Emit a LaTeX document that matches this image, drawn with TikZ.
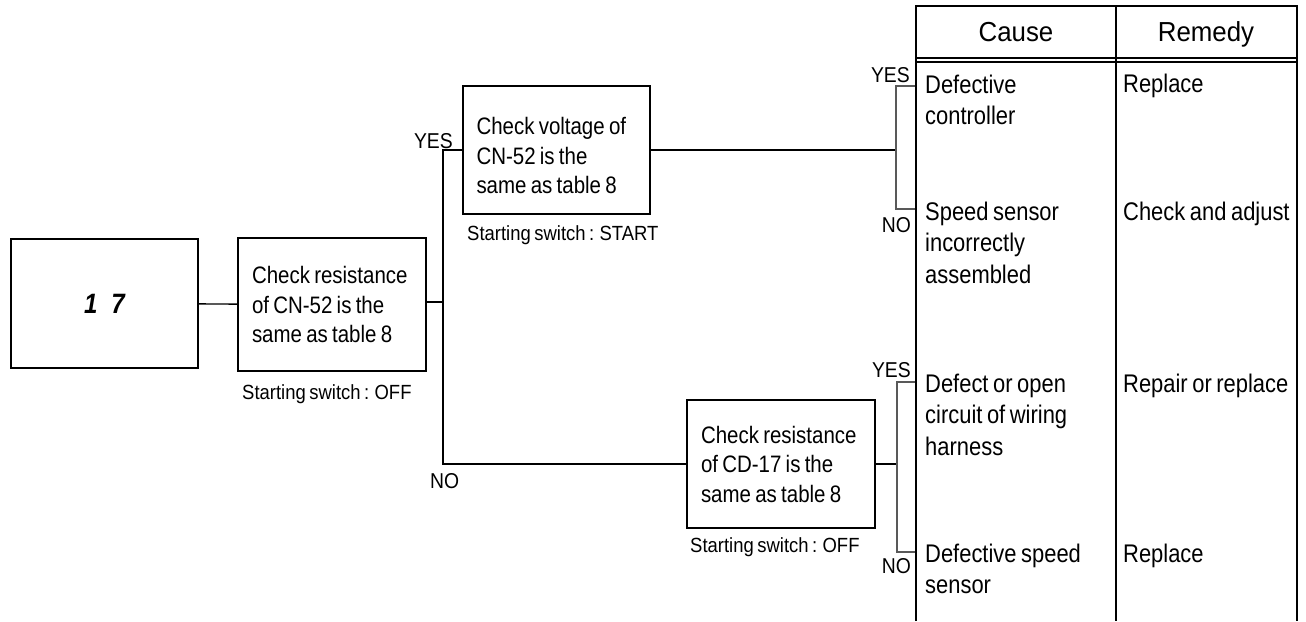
\documentclass[tikz,border=0pt]{standalone}
\usepackage{fontspec}
\setmainfont{Liberation Sans}[FakeStretch=0.86]
\newfontfamily\bodyfont{Liberation Sans}[FakeStretch=0.86, WordSpace=0.75]
\newfontfamily\lblfont{Liberation Sans}[FakeStretch=0.9, WordSpace=0.7]
\newfontfamily\hdrfont{Liberation Sans}[FakeStretch=0.94]
\begin{document}
\begin{tikzpicture}[x=1pt,y=-1pt,
  box/.style={draw, line width=1.7pt, inner xsep=0pt, inner ysep=0pt, align=flush left,
    text width=160pt, font=\bodyfont\fontsize{23.8}{29.5}\selectfont},
  conn/.style={line width=1.4pt},
  brk/.style={line width=1.1pt, black!65},
  tbl/.style={line width=1.7pt},
  lbl/.style={inner sep=0pt, font=\lblfont\fontsize{20.5}{24}\selectfont},
  yn/.style={inner sep=0pt, font=\lblfont\fontsize{21.5}{24}\selectfont},
  cell/.style={inner sep=0pt, align=flush left, font=\bodyfont\fontsize{25.5}{31.5}\selectfont, anchor=base west},
  hdr/.style={inner sep=0pt, font=\hdrfont\fontsize{27.5}{30}\selectfont, anchor=base}]
\useasboundingbox (0,0) rectangle (1306,621);
\fill[white] (0,0) rectangle (1306,621);

% boxes
\node[draw, line width=1.7pt, minimum width=187pt, minimum height=129pt, inner sep=0pt]
  (b1) at (104.5,303.5) {\fontsize{28}{28}\selectfont\bfseries\itshape 1\hspace{14pt}7};
\node[box, minimum width=188pt, minimum height=133pt] (b2) at (332,304.5)
  {Check resistance\\of CN-52 is the\\same as table 8};
\node[box, minimum width=187pt, minimum height=128pt, text height=29pt] (b3) at (556.5,150)
  {Check voltage of\\CN-52 is the\\same as table 8};
\node[box, minimum width=188pt, minimum height=128pt] (b4) at (781,464)
  {Check resistance\\of CD-17 is the\\same as table 8};

% condition labels
\node[lbl, anchor=base west] (s2) at (242,399) {Starting switch : OFF};
\node[lbl, anchor=base west] (s3) at (467,240) {Starting switch : START};
\node[lbl, anchor=base west] (s4) at (690,552) {Starting switch : OFF};

% connectors
\coordinate (j1) at (443,302);
\draw[conn] (b1) -- (b2);
\draw[conn] (b2.east |- j1) -- (j1);
\draw[conn] (b3.west) -| (j1) |- (b4.west);

\coordinate (y1) at (916,86);
\coordinate (n1) at (916,209);
\coordinate (k1) at (896,150);
\draw[conn] (b3.east) -- (k1);
\draw[brk] (y1) -- ++(-20,0) |- (n1);

\coordinate (y2) at (916,382);
\coordinate (n2) at (916,552);
\coordinate (k2) at (897,464);
\draw[conn] (b4.east) -- (k2);
\draw[brk] (y2) -- ++(-19,0) |- (n2);

% YES / NO labels
\node[yn, anchor=base east] (ly0) at (453,148) {YES};
\node[yn, anchor=base west] (ln0) at (430,488) {NO};
\node[yn, anchor=base east] (ly1) at (910,82) {YES};
\node[yn, anchor=base east] (ln1) at (911,232) {NO};
\node[yn, anchor=base east] (ly2) at (911,377) {YES};
\node[yn, anchor=base east] (ln2) at (911,573) {NO};

% table
\draw[tbl] (916,621) -- (916,6) -- (1297,6) -- (1297,621);
\draw[tbl] (1116,6) -- (1116,621);
\draw[line width=1.2pt] (916,58) -- (1297,58);
\draw[line width=1.2pt] (916,62) -- (1297,62);

\node[hdr] (hc) at (1016,41) {Cause};
\node[hdr] (hr) at (1206,41) {Remedy};

\node[cell, text width=185pt] (c1) at (925,93) {Defective\\controller};
\node[cell, text width=185pt] (c2) at (925,220) {Speed sensor\\incorrectly\\assembled};
\node[cell, text width=185pt] (c3) at (925,392) {Defect or open\\circuit of wiring\\harness};
\node[cell, text width=185pt] (c4) at (925,562) {Defective speed\\sensor};

\node[cell, text width=175pt] (r1) at (1123,92) {Replace};
\node[cell, text width=175pt] (r2) at (1123,220) {Check and adjust};
\node[cell, text width=175pt] (r3) at (1123,392) {Repair or replace};
\node[cell, text width=175pt] (r4) at (1123,562) {Replace};
\end{tikzpicture}
\end{document}
